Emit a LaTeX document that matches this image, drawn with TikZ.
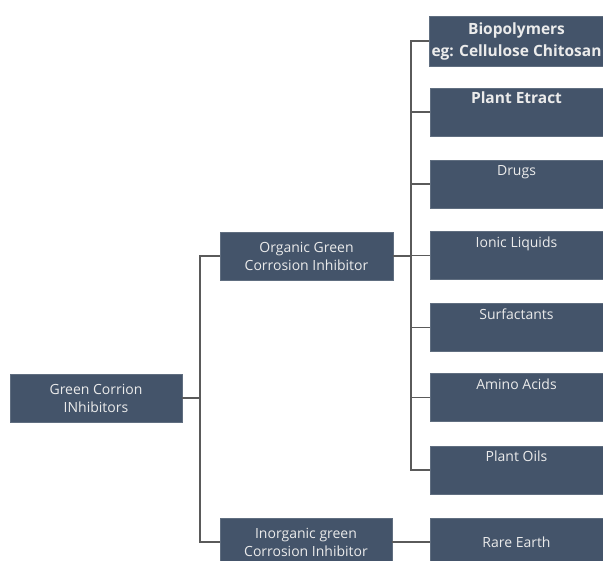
\documentclass[tikz,border=0pt]{standalone}
\usepackage{fontspec}
\setmainfont{Open Sans}
\definecolor{boxblue}{HTML}{44546A}
\definecolor{linegray}{HTML}{5A5A5A}
\begin{document}
\begin{tikzpicture}[
	x=1pt, y=-1pt,
	box/.style={ fill=boxblue, draw=boxblue!85!white, thin, text=white!92!black, align=center, minimum width=172pt, minimum height=48pt, inner sep=2pt, font=\fontsize{14}{18}\selectfont },
	topbox/.style={ box, minimum width=173pt, text height=13pt, text depth=29pt, inner ysep=3pt },
	conn/.style={ draw=linegray, line width=1.5pt },
]
\useasboundingbox (0,0) rectangle (603,561);
\clip (0,0) rectangle (603,561);

\node at (96,398) (root) [box] {Green Corrion\\INhibitors};
\node at (306.5,256) (organic) [box,minimum width=173pt] {Organic Green\\Corrosion Inhibitor};
\node at (306,542) (inorganic) [box] {Inorganic green\\Corrosion Inhibitor};

\node at (516.5,41) (bio) [box,minimum width=173pt,minimum height=50pt,font=\fontsize{15.5}{22}\selectfont\bfseries] {Biopolymers\\eg: Cellulose Chitosan};
\node at (516.5,112) (plant) [topbox,font=\fontsize{15.5}{18}\selectfont\bfseries] {Plant Etract};
\node at (516.5,184) (drugs) [topbox] {Drugs};
\node at (516.5,255.5) (ionic) [topbox] {Ionic Liquids};
\node at (516.5,327.5) (surf) [topbox] {Surfactants};
\node at (516.5,397.5) (amino) [topbox] {Amino Acids};
\node at (516.5,470) (oils) [topbox] {Plant Oils};
\node at (516.5,542) (rare) [box,minimum width=173pt] {Rare Earth};

\foreach \c in {organic,inorganic} {
	\draw[conn] (root.east) -- ++(18,0) |- (\c.west);
}
\foreach \c in {bio,plant,drugs,ionic,surf,amino,oils} {
	\draw[conn] (organic.east) -- ++(18,0) |- (\c.west);
}
\draw[conn] (inorganic.east) -- (rare.west);

\end{tikzpicture}
\end{document}
